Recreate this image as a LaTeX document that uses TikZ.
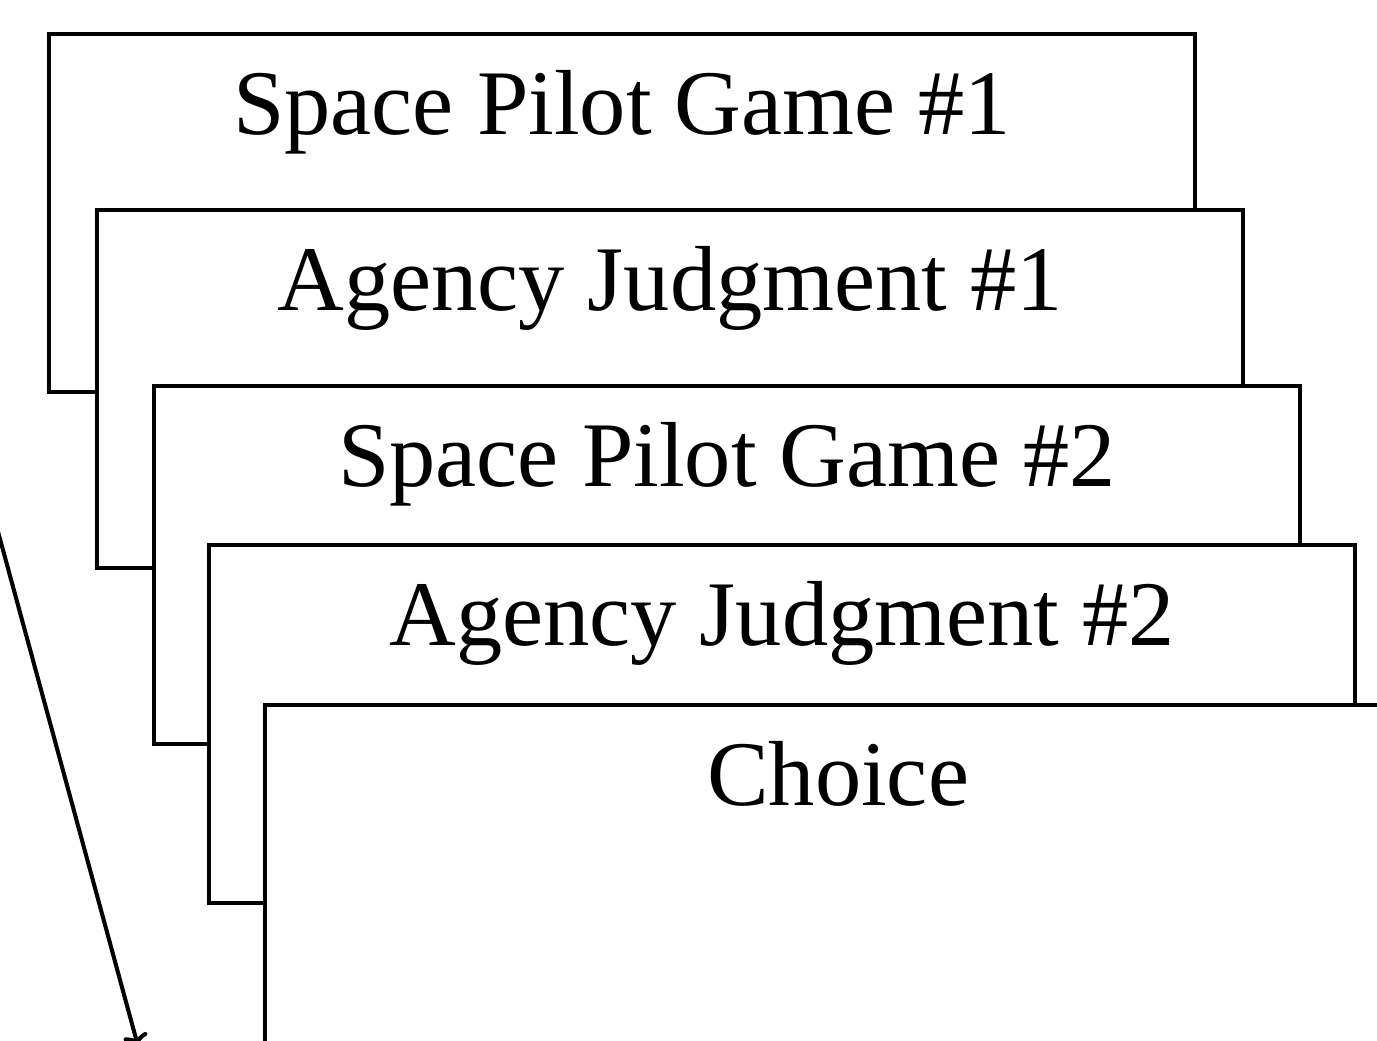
\documentclass[tikz,border=0pt]{standalone}
\usepackage{fontspec}
\setmainfont{Liberation Serif}
\usetikzlibrary{positioning, arrows.meta}
\tikzset{
  card/.style={draw, fill=white, line width=2.4pt, inner sep=0pt,
    minimum width=22.92cm, text height=2.0cm, text depth=5.16cm,
    font=\fontsize{52.6}{62}\selectfont}
}

\begin{document}
\begin{tikzpicture}[node distance=3.5cm, line join=miter]
  \useasboundingbox (0,0) rectangle (27.54,-20.82);

  \node[card, anchor=north west] (game1) at (0.94,-0.64) {Space Pilot Game \#1};
  \node[card, below right=3.52cm and 0.96cm of game1.north west] (judge1) {Agency Judgment \#1};
  \node[card, below right=3.52cm and 1.14cm of judge1.north west] (game2) {Space Pilot Game \#2};
  \node[card, below right=3.18cm and 1.10cm of game2.north west] (judge2) {Agency Judgment \#2};
  \node[card, below right=3.20cm and 1.12cm of judge2.north west] (choice) {Choice};

  \coordinate (from) at (-0.06,-10.56);
  \coordinate (to) at (2.76,-20.92);
  \draw[->, line width=2.3pt] (from) -- (to);
\end{tikzpicture}
\end{document}
